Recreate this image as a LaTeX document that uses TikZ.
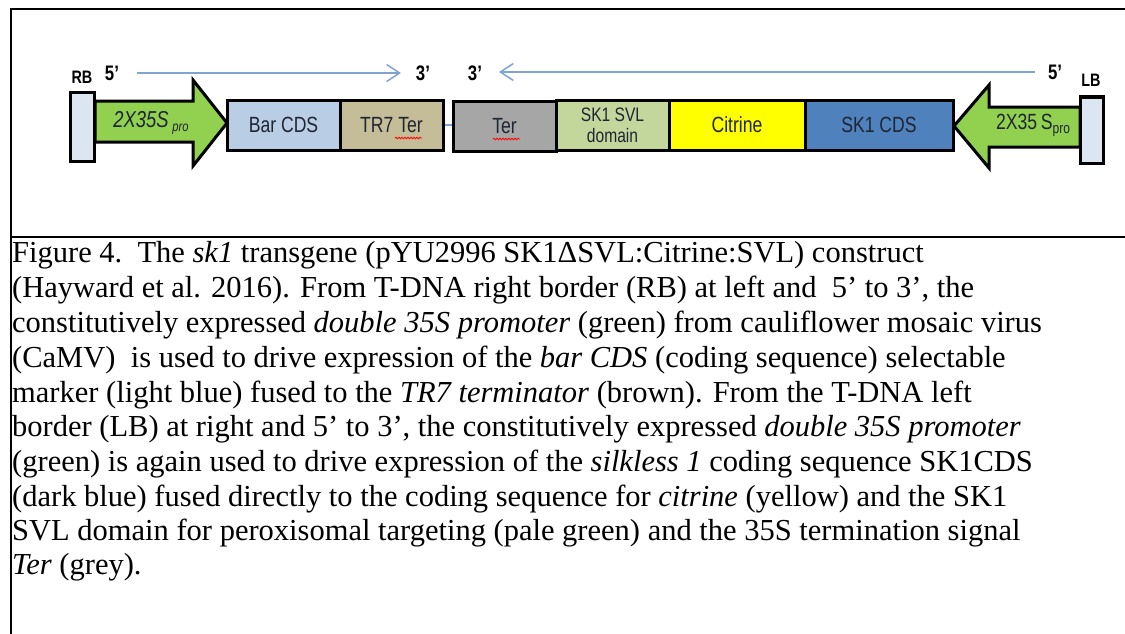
\documentclass[tikz,border=0pt]{standalone}
\usepackage{fontspec}
\setmainfont{Liberation Serif}
\newfontfamily\dfont[FakeStretch=0.8]{Liberation Sans}
\usetikzlibrary{arrows.meta,decorations.pathmorphing}
\definecolor{boxtext}{HTML}{1F2533}
\definecolor{rbfill}{HTML}{DCE6F2}
\definecolor{gfill}{HTML}{92D050}
\definecolor{barblue}{HTML}{B9CDE5}
\definecolor{tan}{HTML}{C4BD97}
\definecolor{tergray}{HTML}{A6A6A6}
\definecolor{palegreen}{HTML}{C3D69B}
\definecolor{citr}{HTML}{FFFF00}
\definecolor{darkblue}{HTML}{4F81BD}
\definecolor{arrowblue}{HTML}{7FA3D3}
\begin{document}
\begin{tikzpicture}[x=1pt,y=-1pt,
  blk/.style={draw=black,line width=3pt,inner sep=0pt,minimum height=50pt,
    font=\dfont\fontsize{22}{23}\selectfont,text=boxtext,align=center},
  border/.style={draw=black,line width=3pt,fill=rbfill,inner sep=0pt,minimum width=24pt},
  prom/.style={draw=black,line width=3pt,fill=gfill,line join=miter},
  lab/.style={inner sep=0pt,font=\dfont\bfseries\fontsize{21}{22}\selectfont,text=black},
  dir/.style={draw=arrowblue,line width=1.5pt,-{Straight Barb[length=13pt,width=17pt,line width=1.5pt]}},
  captext/.style={anchor=base west,inner sep=0pt,font=\fontsize{30.5}{34}\selectfont},
  squig/.style={draw=red,line width=0.8pt,decorate,decoration={snake,segment length=3pt,amplitude=0.8pt}}]
\useasboundingbox (0,0) rectangle (1125,634);
% frame
\draw[line width=2pt] (1125,9) -- (11,9) -- (11,634);
\draw[line width=2pt] (11,237) -- (1125,237);
% left side
\node[border,minimum height=68pt] (rb) at (82.5,127) {};
\draw[prom] (95,101) -- (193,101) -- (193,80) -- (227,123) -- (193,166) -- (193,142) -- (95,142) -- cycle;
\node[inner sep=0pt,font=\dfont\itshape\fontsize{23}{24}\selectfont,text=boxtext] (p1) at (151,123) {2X35S\,\raisebox{-4pt}{\fontsize{14}{14}\selectfont pro}};
\node[blk,fill=barblue,minimum width=113pt] (bar) at (283.5,125) {Bar CDS};
\node[blk,fill=tan,minimum width=103pt] (tr7) at (391.5,125) {TR7 Ter};
\draw[arrowblue,line width=1.5pt] (tr7.east) -- (453,125);
% right side
\node[blk,fill=tergray,minimum width=103pt] (ter) at (504.5,126) {Ter};
\node[blk,fill=palegreen,minimum width=113pt,font=\dfont\fontsize{19.5}{21}\selectfont] (svl) at (612.5,125) {SK1 SVL\\domain};
\node[blk,fill=citr,minimum width=136pt] (cit) at (737,125) {Citrine};
\node[blk,fill=darkblue,minimum width=148pt] (sk1) at (879,125) {SK1 CDS};
\draw[prom] (1080,107) -- (989,107) -- (989,85) -- (954,126) -- (989,168) -- (989,147) -- (1080,147) -- cycle;
\node[inner sep=0pt,font=\dfont\fontsize{22}{23}\selectfont,text=boxtext] (p2) at (1033,125) {2X35\,S\raisebox{-4pt}{\fontsize{15}{15}\selectfont pro}};
\node[border,minimum height=66pt,minimum width=23pt] (lb) at (1091.5,130) {};
% squiggles
\draw[squig] (395,138) -- (422,138);
\draw[squig] (493,139) -- (520,139);
% labels
\node[lab,font=\dfont\bfseries\fontsize{18}{19}\selectfont] (rbl) at (82,77) {RB};
\node[lab] (f5a) at (112,73) {5’};
\node[lab] (t3a) at (423,73) {3’};
\node[lab] (t3b) at (475,73) {3’};
\node[lab] (f5b) at (1055,72) {5’};
\node[lab,font=\dfont\bfseries\fontsize{18}{19}\selectfont] (lbl) at (1091,80) {LB};
\coordinate (a1s) at (137,73);
\coordinate (a1e) at (401,73);
\coordinate (a2s) at (1035,72);
\coordinate (a2e) at (499,72);
\draw[dir] (a1s) -- (a1e);
\draw[dir] (a2s) -- (a2e);
% caption
\node[captext] (l1) at (12,262) {Figure 4.\ \ The \textit{sk1} transgene (pYU2996 SK1ΔSVL:Citrine:SVL) construct};
\node[captext] (l2) at (12,297) {(Hayward et al. 2016). From T-DNA right border (RB) at left and\ \ 5’ to 3’, the};
\node[captext] (l3) at (12,332) {constitutively expressed \textit{double 35S promoter} (green) from cauliflower mosaic virus};
\node[captext] (l4) at (12,367) {(CaMV)\ \ is used to drive expression of the \textit{bar CDS} (coding sequence) selectable};
\node[captext] (l5) at (12,402) {marker (light blue) fused to the \textit{TR7 terminator} (brown). From the T-DNA left};
\node[captext] (l6) at (12,436) {border (LB) at right and 5’ to 3’, the constitutively expressed \textit{double 35S promoter}};
\node[captext] (l7) at (12,471) {(green) is again used to drive expression of the \textit{silkless 1} coding sequence SK1CDS};
\node[captext] (l8) at (12,506) {(dark blue) fused directly to the coding sequence for \textit{citrine} (yellow) and the SK1};
\node[captext] (l9) at (12,540) {SVL domain for peroxisomal targeting (pale green) and the 35S termination signal};
\node[captext] (l10) at (12,574) {\textit{Ter} (grey).};
\end{tikzpicture}
\end{document}
